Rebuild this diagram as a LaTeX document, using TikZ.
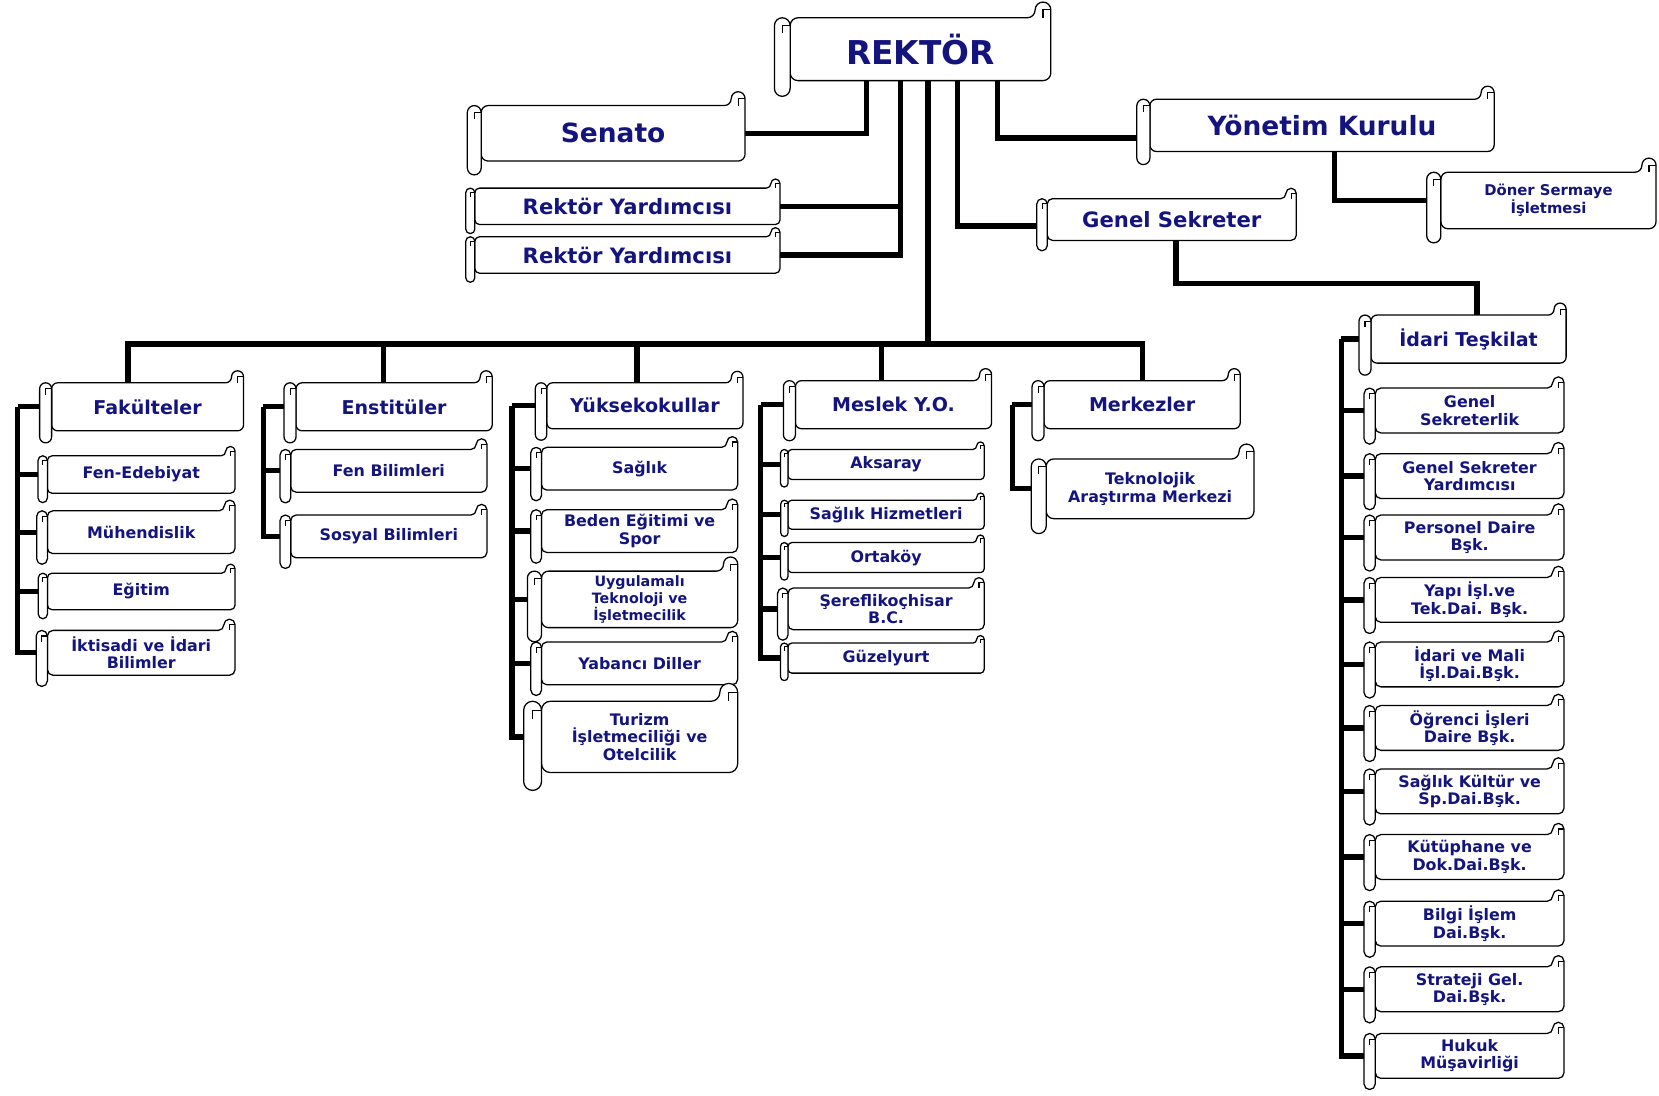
\documentclass[tikz,border=0pt]{standalone}
\usepackage{fontspec}
\setmainfont{DejaVu Sans}
\usetikzlibrary{calc}
\definecolor{ScrollNavy}{HTML}{14147F}
\pgfdeclarelayer{links}
\pgfdeclarelayer{scrolls}
\pgfsetlayers{links,scrolls,main}

\tikzset{
  scrollbox/.style 2 args={inner sep=0pt, align=center, text=ScrollNavy,
    minimum width=#1pt, minimum height=#2pt},
  scrollline/.style={draw=black, fill=white, line width=1.2pt, line join=round},
  curlline/.style={draw=black, line width=1pt},
  link/.style={draw=black, line width=5pt},
  titlefont/.style={font=\fontsize{31}{34}\selectfont\bfseries},
  bigfont/.style={font=\fontsize{25}{28}\selectfont\bfseries},
  midfont/.style={font=\fontsize{20}{23}\selectfont\bfseries},
  headfont/.style={font=\fontsize{18}{20}\selectfont\bfseries},
  smallfont/.style={font=\fontsize{15}{16.5}\selectfont\bfseries},
  tinyfont/.style={font=\fontsize{13.5}{16}\selectfont\bfseries},
}

% scroll outline round a named node (body = node)
\newcommand{\scrollshape}[1]{%
  \filldraw[scrollline] let \p1=(#1.north west), \p2=(#1.south east),
      \n1={0.25*(\y1-\y2)}, \n2={0.125*(\y1-\y2)} in [rounded corners=\n2]
    (\x1,\y1) -- ({\x2-\n1},\y1) -- ({\x2-\n1},{\y1+\n1}) -- (\x2,{\y1+\n1})
    -- (\x2,\y2) -- (\x1,\y2) -- cycle;
  \draw[curlline] let \p1=(#1.north west), \p2=(#1.south east),
      \n1={0.25*(\y1-\y2)}, \n2={0.125*(\y1-\y2)} in
    ({\x2-\n2},\y1) -- ({\x2-\n2},{\y1+\n2}) -- (\x2,{\y1+\n2});
  \filldraw[scrollline] let \p1=(#1.north west), \p2=(#1.south east),
      \n1={0.25*(\y1-\y2)}, \n2={0.125*(\y1-\y2)} in [rounded corners=\n2]
    ({\x1-\n1},\y1) rectangle (\x1,{\y2-\n1});
  \draw[curlline] let \p1=(#1.north west), \p2=(#1.south east),
      \n1={0.25*(\y1-\y2)}, \n2={0.125*(\y1-\y2)} in
    (\x1,{\y1-\n2}) -- ({\x1-\n2},{\y1-\n2}) -- ({\x1-\n2},{\y1-\n1});
}

\begin{document}
\begin{tikzpicture}[x=1pt, y=-1pt]
  \useasboundingbox (0,0) rectangle (1568,1035);

  % top level
  \node[scrollbox={246}{59}, titlefont] (rektor) at (870,46.5) {REKTÖR};
  \node[scrollbox={249}{52}, bigfont] (senato) at (579.5,126) {Senato};
  \node[scrollbox={288}{34}, midfont] (ryA) at (593,195) {Rektör Yardımcısı};
  \node[scrollbox={288}{34}, midfont] (ryB) at (593,241) {Rektör Yardımcısı};
  \node[scrollbox={325}{49}, bigfont] (yk) at (1249.5,118.5) {Yönetim Kurulu};
  \node[scrollbox={235}{39}, midfont] (gs) at (1107.5,207.5) {Genel Sekreter};
  \node[scrollbox={203}{53}, font=\fontsize{14}{15}\selectfont\bfseries]
    (doner) at (1463.5,189.5) {Döner Sermaye\\İşletmesi};
  \node[scrollbox={184}{45}, headfont] (idari) at (1388,320.5) {İdari Teşkilat};

  % academic heads
  \node[scrollbox={181}{45}, headfont] (fak) at (139.5,384.5) {Fakülteler};
  \node[scrollbox={185}{45}, headfont] (enst) at (372.5,384.5) {Enstitüler};
  \node[scrollbox={185}{43}, headfont] (yuksek) at (609.5,383.5) {Yüksekokullar};
  \node[scrollbox={185}{45}, headfont] (meslek) at (844.5,382.5) {Meslek Y.O.};
  \node[scrollbox={185}{45}, headfont] (merkez) at (1079.5,382.5) {Merkezler};

  % faculties
  \node[scrollbox={177}{35}, smallfont] (fen) at (133.5,448.5) {Fen-Edebiyat};
  \node[scrollbox={177}{40}, smallfont] (muh) at (133.5,503) {Mühendislik};
  \node[scrollbox={177}{34}, smallfont] (egitim) at (133.5,559) {Eğitim};
  \node[scrollbox={177}{42}, smallfont] (iktisadi) at (133.5,617) {İktisadi ve İdari\\Bilimler};

  % institutes
  \node[scrollbox={185}{40}, smallfont] (fenbil) at (367.5,445) {Fen Bilimleri};
  \node[scrollbox={185}{40}, smallfont] (sosyal) at (367.5,507) {Sosyal Bilimleri};

  % schools
  \node[scrollbox={185}{40}, smallfont] (saglik) at (604.5,443) {Sağlık};
  \node[scrollbox={185}{40}, smallfont] (beden) at (604.5,502) {Beden Eğitimi ve\\Spor};
  \node[scrollbox={185}{53}, tinyfont] (uygul) at (604.5,566.5) {Uygulamalı\\Teknoloji ve\\İşletmecilik};
  \node[scrollbox={185}{40}, smallfont] (yabanci) at (604.5,627) {Yabancı Diller};
  \node[scrollbox={185}{67}, smallfont] (turizm) at (604.5,696.5) {Turizm\\İşletmeciliği ve\\Otelcilik};

  % vocational schools
  \node[scrollbox={185}{28}, smallfont] (aksaray) at (837.5,439) {Aksaray};
  \node[scrollbox={185}{27}, smallfont] (shizmet) at (837.5,486.5) {Sağlık Hizmetleri};
  \node[scrollbox={185}{28}, smallfont] (ortakoy) at (837.5,527) {Ortaköy};
  \node[scrollbox={185}{39}, smallfont] (serefli) at (837.5,575.5) {Şereflikoçhisar\\B.C.};
  \node[scrollbox={185}{28}, smallfont] (guzel) at (837.5,622) {Güzelyurt};

  % centres
  \node[scrollbox={196}{56}, smallfont] (tekno) at (1087,462) {Teknolojik\\Araştırma Merkezi};

  % administration
  \foreach \s/\y/\t in {gsl/388/{Genel\\Sekreterlik}, gsy/450/{Genel Sekreter\\Yardımcısı},
      pers/508/{Personel Daire\\Bşk.}, yapi/567/{Yapı İşl.ve\\Tek.Dai. Bşk.},
      mali/628/{İdari ve Mali\\İşl.Dai.Bşk.}, ogr/688/{Öğrenci İşleri\\Daire Bşk.},
      skult/748/{Sağlık Kültür ve\\Sp.Dai.Bşk.}, kut/810/{Kütüphane ve\\Dok.Dai.Bşk.},
      bilgi/873/{Bilgi İşlem\\Dai.Bşk.}, strat/935/{Strateji Gel.\\Dai.Bşk.},
      hukuk/998/{Hukuk\\Müşavirliği}}
    \node[scrollbox={178}{42}, smallfont] (\s) at (1389,\y) {\t};

  \begin{pgfonlayer}{scrolls}
    \foreach \s in {rektor,senato,ryA,ryB,yk,gs,doner,idari,fak,enst,yuksek,meslek,
        merkez,fen,muh,egitim,iktisadi,fenbil,sosyal,saglik,beden,uygul,yabanci,
        turizm,aksaray,shizmet,ortakoy,serefli,guzel,tekno,gsl,gsy,pers,yapi,mali,
        ogr,skult,kut,bilgi,strat,hukuk}
      {\scrollshape{\s}}
  \end{pgfonlayer}

  \begin{pgfonlayer}{links}
    % from the rector
    \draw[link] ([xshift=-51pt]rektor.south) |- (senato.east);
    \draw[link] ([xshift=-19pt]rektor.south) |- (ryA.east);
    \draw[link] ([xshift=-19pt]rektor.south) |- (ryB.east);
    \draw[link] ([xshift=73pt]rektor.south) |- ([yshift=-12pt]yk.west);
    \draw[link] ([xshift=35pt]rektor.south) |- ([yshift=-6pt]gs.west);
    \draw[link] ([xshift=12pt]yk.south) |- (doner.west);
    \draw[link] ([xshift=4pt]gs.south) |- ([xshift=8pt,yshift=30pt]idari.north)
      -- ([xshift=8pt]idari.north);

    % bus to the academic units
    \coordinate (bus) at (877,325);
    \draw[link] ([xshift=7pt]rektor.south) -- (bus);
    \draw[link] ([xshift=-18.5pt]fak.north) |- (bus);
    \draw[link] ([xshift=-10pt]enst.north) |- (bus);
    \draw[link] ([xshift=-7.5pt]yuksek.north) |- (bus);
    \draw[link] ([xshift=-11.5pt]meslek.north) |- (bus);
    \draw[link] (merkez.north) |- (bus);

    % trunks
    \coordinate (fakT) at ([xshift=-32pt]fak.west);
    \draw[link] (fak.west) -- (fakT);
    \foreach \s in {fen,muh,egitim,iktisadi} \draw[link] (fakT) |- (\s.west);
    \coordinate (enstT) at ([xshift=-31pt]enst.west);
    \draw[link] (enst.west) -- (enstT);
    \foreach \s in {fenbil,sosyal} \draw[link] (enstT) |- (\s.west);
    \coordinate (yuksekT) at ([xshift=-33pt]yuksek.west);
    \draw[link] (yuksek.west) -- (yuksekT);
    \foreach \s in {saglik,beden,uygul,yabanci,turizm} \draw[link] (yuksekT) |- (\s.west);
    \coordinate (meslekT) at ([xshift=-33pt]meslek.west);
    \draw[link] (meslek.west) -- (meslekT);
    \foreach \s in {aksaray,shizmet,ortakoy,serefli,guzel} \draw[link] (meslekT) |- (\s.west);
    \coordinate (merkezT) at ([xshift=-30pt]merkez.west);
    \draw[link] (merkez.west) -- (merkezT);
    \draw[link] (merkezT) |- (tekno.west);
    \coordinate (idariT) at ([xshift=-28pt]idari.west);
    \draw[link] (idari.west) -- (idariT);
    \foreach \s in {gsl,gsy,pers,yapi,mali,ogr,skult,kut,bilgi,strat,hukuk}
      \draw[link] (idariT) |- (\s.west);
  \end{pgfonlayer}
\end{tikzpicture}
\end{document}
